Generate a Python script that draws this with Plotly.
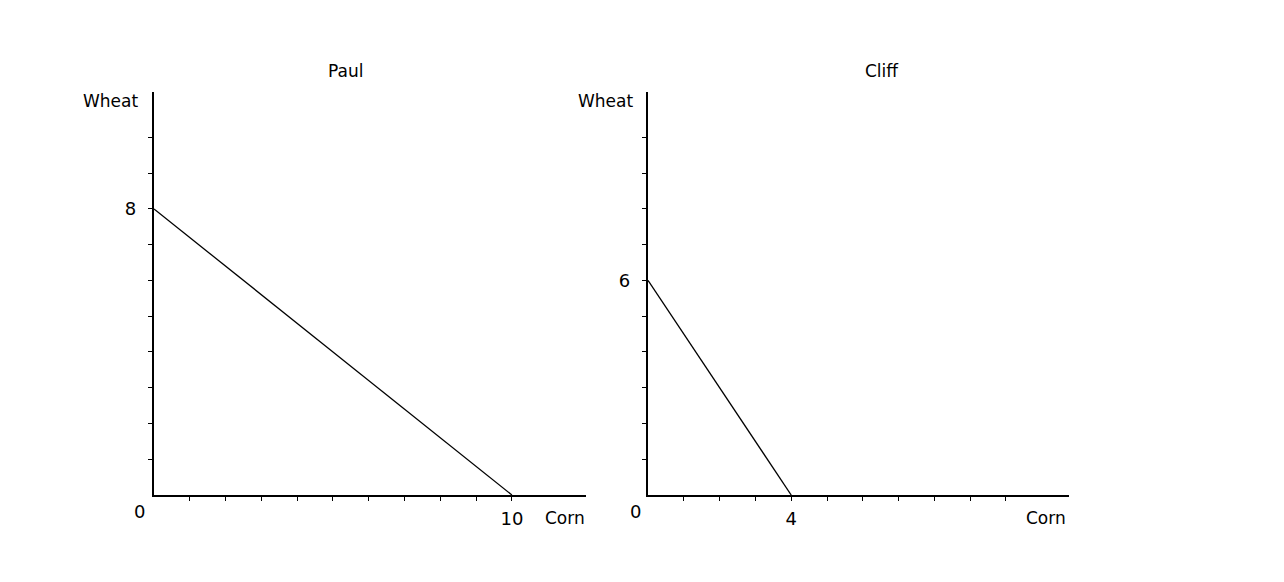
import plotly.graph_objects as go

# production possibilities frontiers
paul_corn = [0, 10]
paul_wheat = [8, 0]
cliff_corn = [0, 4]
cliff_wheat = [6, 0]

tick_steps = list(range(1, 11))
paul_xlabels = {10: '10'}
paul_ylabels = {8: '8'}
cliff_xlabels = {4: '4'}
cliff_ylabels = {6: '6'}

W, H = 1284, 582
OFFX, OFFY = 7, 8  # page body margin
FONT = 'DejaVu Sans'


def px_x(p):
    return (p - OFFX) / W


def px_y(p):
    return 1 - (p - OFFY) / H


def ticktext(steps, labels):
    return [labels.get(v, '') for v in steps]


fig = go.Figure()
fig.add_trace(go.Scatter(x=paul_corn, y=paul_wheat, mode='lines',
                         line=dict(color='black', width=1.3),
                         xaxis='x', yaxis='y', showlegend=False))
fig.add_trace(go.Scatter(x=cliff_corn, y=cliff_wheat, mode='lines',
                         line=dict(color='black', width=1.3),
                         xaxis='x2', yaxis='y2', showlegend=False))

axis_common = dict(showgrid=False, zeroline=False, showline=True,
                   linecolor='black', linewidth=2.4, ticks='outside',
                   ticklen=4, tickwidth=1, tickcolor='black',
                   tickfont=dict(family=FONT, size=18, color='black'),
                   fixedrange=True)

fig.update_layout(
    width=W, height=H,
    margin=dict(l=0, r=0, t=0, b=0),
    paper_bgcolor='white', plot_bgcolor='white',
    xaxis=dict(domain=[px_x(153), px_x(585)], range=[0, 12.07],
               tickvals=tick_steps, ticktext=ticktext(tick_steps, paul_xlabels),
               ticklabelstandoff=2, anchor='y', **axis_common),
    yaxis=dict(domain=[px_y(495), px_y(92)], range=[0, 11.27],
               tickvals=tick_steps, ticktext=ticktext(tick_steps, paul_ylabels),
               ticklabelstandoff=8, anchor='x', **axis_common),
    xaxis2=dict(domain=[px_x(647), px_x(1068)], range=[0, 11.76],
                tickvals=tick_steps, ticktext=ticktext(tick_steps, cliff_xlabels),
                ticklabelstandoff=2, anchor='y2', **axis_common),
    yaxis2=dict(domain=[px_y(495), px_y(92)], range=[0, 11.27],
                tickvals=tick_steps, ticktext=ticktext(tick_steps, cliff_ylabels),
                ticklabelstandoff=8, anchor='x2', **axis_common),
)

texts = [
    ('Paul', 345, 71, 'center', 17),
    ('Cliff', 881, 71, 'center', 17),
    ('Wheat', 139, 101, 'right', 17),
    ('Wheat', 634, 101, 'right', 17),
    ('0', 138, 511, 'center', 18),
    ('0', 634, 511, 'center', 18),
    ('Corn', 586, 518, 'right', 17),
    ('Corn', 1067, 518, 'right', 17),
]
for txt, x, y, align, size in texts:
    fig.add_annotation(text=txt, xref='paper', yref='paper',
                       x=px_x(x), y=px_y(y), xanchor=align, yanchor='middle',
                       showarrow=False,
                       font=dict(family=FONT, size=size, color='black'))

fig.write_html('out.html')
